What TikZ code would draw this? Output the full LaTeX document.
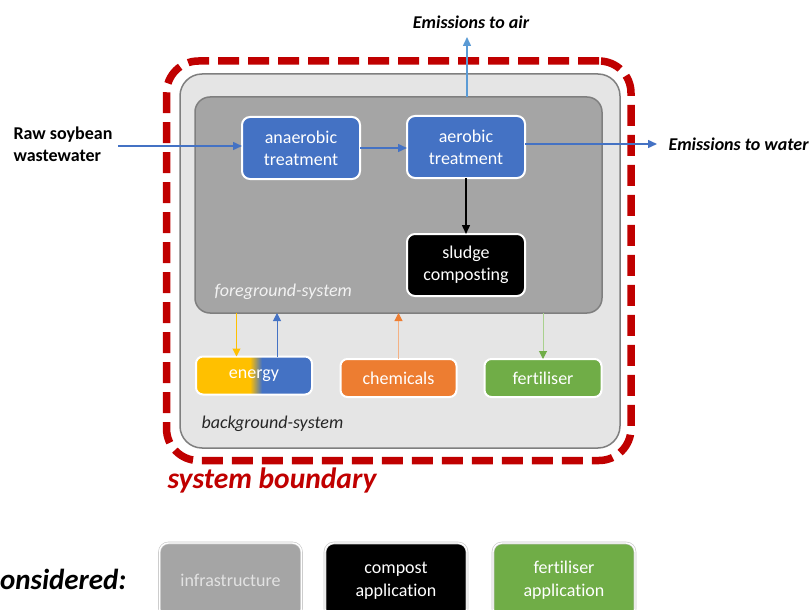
\documentclass[tikz,border=0pt]{standalone}
\usepackage{fontspec}
\setmainfont{Carlito}[Ligatures=CommonOff]
\usetikzlibrary{arrows.meta}

\definecolor{bndred}{HTML}{C00000}
\definecolor{procblue}{HTML}{4472C4}
\definecolor{airblue}{HTML}{5B9BD5}
\definecolor{fggray}{HTML}{A5A5A5}
\definecolor{bggray}{HTML}{E5E5E5}
\definecolor{edgegray}{HTML}{7F7F7F}
\definecolor{enyellow}{HTML}{FFC000}
\definecolor{chemorange}{HTML}{ED7D31}
\definecolor{chemline}{HTML}{F4B183}
\definecolor{fertgreen}{HTML}{70AD47}
\definecolor{fertline}{HTML}{A9D18E}
\definecolor{fglabel}{HTML}{F2F2F2}
\definecolor{infratext}{HTML}{E2E2E2}

% yellow-to-blue split of the energy box
\pgfdeclarehorizontalshading{energyshade}{100bp}{%
  color(0bp)=(enyellow); color(48.3bp)=(enyellow);
  color(53.4bp)=(procblue); color(100bp)=(procblue)}

\tikzset{
  proc/.style={draw=white, line width=2pt, rounded corners=8pt, outer sep=0pt,
    text=white, align=center, minimum width=118pt, minimum height=62pt},
  supply/.style={draw=white, line width=2pt, rounded corners=7pt, outer sep=0pt,
    text=white, align=center, minimum height=38pt},
  excluded/.style={draw=gray!45, double=white, double distance=1.4pt, line width=0.6pt,
    rounded corners=9pt, outer sep=0pt, align=center,
    minimum width=142pt, minimum height=75pt},
  flow/.style={line width=1.5pt, -{Triangle[length=9pt,width=8pt]}},
  thinflow/.style={line width=1pt, -{Triangle[length=8pt,width=8pt]}},
  emission/.style={font=\fontsize{18}{22}\selectfont\bfseries\itshape},
}

\begin{document}
\begin{tikzpicture}[x=1pt, y=-1pt, font=\fontsize{18}{22}\selectfont]
\useasboundingbox (0,0) rectangle (812,610);

% system boundary
\node (boundary) [draw=bndred, line width=7.5pt, dash pattern=on 21pt off 9pt,
  rounded corners=32pt, minimum width=464.5pt, minimum height=399.5pt, outer sep=0pt]
  at (398.75,260.75) {};

% background and foreground systems
\node (bg) [draw=edgegray, fill=bggray, line width=1.5pt, rounded corners=22pt,
  minimum width=440pt, minimum height=374pt, outer sep=0pt] at (400,261) {};
\node (fg) [draw=edgegray, fill=fggray, line width=1.5pt, rounded corners=15pt,
  minimum width=407pt, minimum height=216pt, outer sep=0pt] at (398.5,205) {};

\node (fglbl) [anchor=west, text=fglabel, font=\fontsize{18}{22}\selectfont\itshape]
  at (211,292) {foreground-system};
\node (bglbl) [anchor=west, text=black!85, font=\fontsize{18}{22}\selectfont\itshape]
  at (198,424) {background-system};

% treatment chain
\node (ana) [proc, fill=procblue] at (301,148) {anaerobic\\treatment};
\node (aer) [proc, fill=procblue] at (466,147) {aerobic\\treatment};
\node (sludge) [proc, fill=black] at (466,265) {sludge\\composting};

% background supplies
\node (energy) [supply, shade, shading=energyshade, minimum width=116pt] at (254,375.5) {energy};
\node (chem) [supply, fill=chemorange, minimum width=116pt] at (398.5,378) {chemicals};
\node (fert) [supply, fill=fertgreen, minimum width=117pt] at (543,378) {fertiliser};

% system boundary label
\node (bndlbl) [anchor=west, text=bndred, font=\fontsize{29.5}{34}\selectfont\bfseries\itshape]
  at (164,480) {system boundary};

% inputs and emissions
\node (raw) [anchor=west, align=left, font=\fontsize{18}{22}\selectfont\bfseries] at (10,144)
  {Raw soybean\\wastewater};
\coordinate (rawstart) at (118,146);
\draw[flow, procblue] (rawstart) -- (rawstart -| ana.west);
\draw[flow, procblue] (ana.east) -- (ana.east -| aer.west);

\coordinate (watertip) at (657,144);
\draw[flow, procblue] (aer.east |- watertip) -- (watertip);
\node (waterlbl) [emission, anchor=west] at (665,144) {Emissions to water};

\coordinate (airtip) at (467,37);
\draw[flow, airblue] (fg.north -| airtip) -- (airtip);
\node (airlbl) [emission] at (471,22) {Emissions to air};

\draw[line width=1.5pt, -{Triangle[length=9pt,width=8pt]}] (aer.south) -- (sludge.north);

% exchanges with the background system
\coordinate (eydown) at (236.5,0);
\coordinate (ebup) at (277,0);
\coordinate (chup) at (398.5,0);
\coordinate (ftdown) at (543,0);
\draw[thinflow, enyellow] (fg.south -| eydown) -- (energy.north -| eydown);
\draw[thinflow, procblue] (energy.north -| ebup) -- (fg.south -| ebup);
\draw[thinflow, chemline, -{Triangle[length=8pt,width=8pt,color=chemorange]}]
  (chem.north) -- (fg.south -| chup);
\draw[thinflow, fertline, -{Triangle[length=8pt,width=8pt,color=fertgreen]}]
  (fg.south -| ftdown) -- (fert.north);

% processes left out
\node (notcons) [anchor=east, font=\fontsize{29}{34}\selectfont\bfseries\itshape]
  at (130,579) {onsidered:};
\node (infra) [excluded, fill=fggray, text=infratext] at (230.5,580.5) {infrastructure};
\node (compost) [excluded, fill=black, text=white, font=\fontsize{18}{23}\selectfont]
  at (396,580.5) {compost\\application};
\node (fertapp) [excluded, fill=fertgreen, text=white, font=\fontsize{18}{23}\selectfont]
  at (564,580.5) {fertiliser\\application};
\end{tikzpicture}
\end{document}
